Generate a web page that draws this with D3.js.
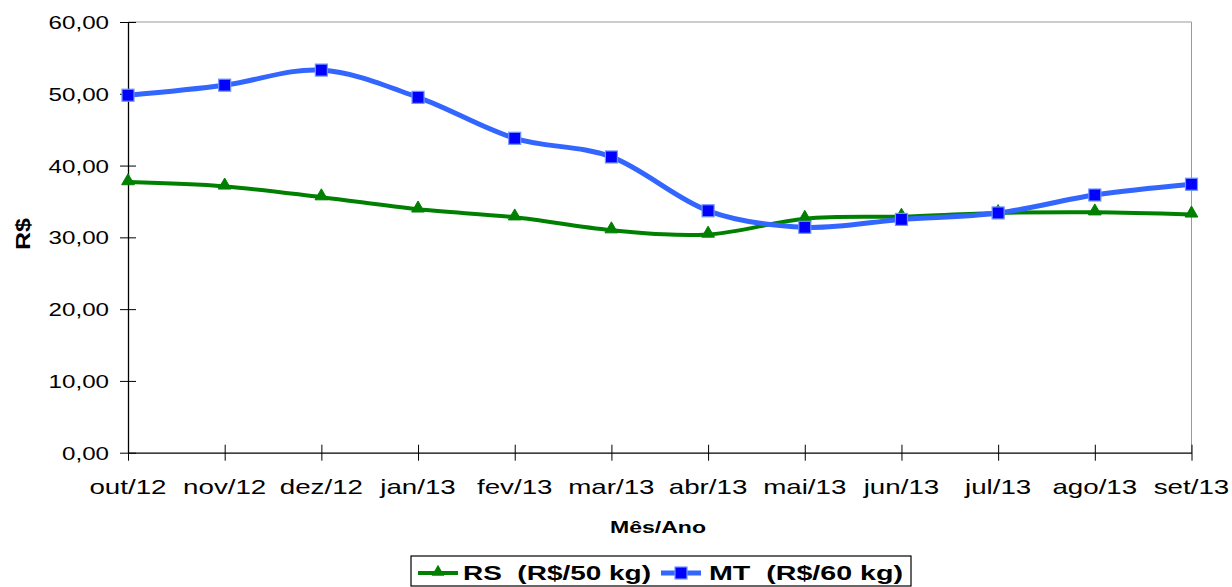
<html>
<head>
<meta charset="utf-8">
<title>Preços</title>
<script src="https://cdn.jsdelivr.net/npm/d3@7"></script>
<style>
  body { margin: 0; background: #fff; }
  text { font-family: "Liberation Sans", Arial, sans-serif; white-space: pre; }
</style>
</head>
<body>
<script>
// data
const months = ["out/12", "nov/12", "dez/12", "jan/13", "fev/13", "mar/13",
                "abr/13", "mai/13", "jun/13", "jul/13", "ago/13", "set/13"];
const rsValues = [37.7, 37.1, 35.6, 33.9, 32.8, 31.0, 30.4, 32.6, 32.9, 33.4, 33.5, 33.2];
const mtValues = [49.8, 51.2, 53.3, 49.5, 43.8, 41.2, 33.7, 31.4, 32.5, 33.4, 35.9, 37.4];
const yTicks = [0, 10, 20, 30, 40, 50, 60];
const seriesNames = ["RS  (R$/50 kg)", "MT  (R$/60 kg)"];

const w = 1232, h = 587;
const plotLeft = 128, plotRight = 1191.5, plotTop = 22, plotBottom = 452.7;

const svg = d3.select("body").append("svg")
  .attr("width", w)
  .attr("height", h);

const x = d3.scalePoint().domain(months).range([plotLeft, plotRight]).padding(0);
const y = d3.scaleLinear().domain([0, 60]).range([plotBottom, plotTop]);

const fmt = v => d3.format(".2f")(v).replace(".", ",");

// text looks horizontally stretched in the original, so widen it
function stretch(sel, factor) {
  sel.each(function () {
    const len = this.getComputedTextLength();
    d3.select(this).attr("textLength", len * factor).attr("lengthAdjust", "spacingAndGlyphs");
  });
}

// frame: gray top / right
svg.append("line").attr("x1", plotLeft).attr("x2", plotRight).attr("y1", plotTop).attr("y2", plotTop)
  .attr("stroke", "#999").attr("stroke-width", 1);
svg.append("line").attr("x1", plotRight).attr("x2", plotRight).attr("y1", plotTop).attr("y2", plotBottom)
  .attr("stroke", "#999").attr("stroke-width", 1);

// y axis
const yAxis = svg.append("g")
  .attr("transform", `translate(${plotLeft},0)`)
  .call(d3.axisLeft(y).tickValues(yTicks).tickSize(0).tickFormat(""));
yAxis.select(".domain").attr("stroke", "#000").attr("stroke-width", 1.3);
yAxis.selectAll(".tick line").attr("x1", -8).attr("x2", 8).attr("stroke", "#000");

const yLab = svg.append("g").selectAll("text")
  .data(yTicks)
  .join("text")
  .attr("x", 109)
  .attr("y", d => y(d) + 7)
  .attr("text-anchor", "end")
  .attr("font-size", 19)
  .attr("fill", "#000")
  .text(fmt);
stretch(yLab, 1.27);

// x axis
const xAxis = svg.append("g")
  .attr("transform", `translate(0,${plotBottom})`)
  .call(d3.axisBottom(x).tickSize(0).tickFormat(""));
xAxis.select(".domain").attr("stroke", "#000").attr("stroke-width", 1.3);
xAxis.selectAll(".tick line").attr("y1", -8).attr("y2", 8).attr("stroke", "#000");

const xLab = svg.append("g").selectAll("text")
  .data(months)
  .join("text")
  .attr("x", d => x(d))
  .attr("y", 494)
  .attr("text-anchor", "middle")
  .attr("font-size", 21)
  .attr("fill", "#000")
  .text(d => d);
stretch(xLab, 1.32);

// axis titles
svg.append("text")
  .attr("x", 658).attr("y", 533)
  .attr("text-anchor", "middle")
  .attr("font-size", 17).attr("font-weight", "bold")
  .attr("textLength", 96).attr("lengthAdjust", "spacingAndGlyphs")
  .text("Mês/Ano");

svg.append("text")
  .attr("transform", "translate(30,234) rotate(-90)")
  .attr("text-anchor", "middle")
  .attr("font-size", 21).attr("font-weight", "bold")
  .attr("textLength", 32).attr("lengthAdjust", "spacingAndGlyphs")
  .text("R$");

// lines
const line = d3.line()
  .x((d, i) => x(months[i]))
  .y(d => y(d))
  .curve(d3.curveCatmullRom.alpha(0));

const triangle = d3.symbol().type(d3.symbolTriangle).size(70);

svg.append("path")
  .datum(rsValues)
  .attr("d", line)
  .attr("fill", "none")
  .attr("stroke", "#008000")
  .attr("stroke-width", 4);

svg.append("g").selectAll("path")
  .data(rsValues)
  .join("path")
  .attr("d", triangle)
  .attr("transform", (d, i) => `translate(${x(months[i])},${y(d) - 1})`)
  .attr("fill", "#008000")
  .attr("stroke", "#008000")
  .attr("stroke-width", 1);

svg.append("path")
  .datum(mtValues)
  .attr("d", line)
  .attr("fill", "none")
  .attr("stroke", "#3366FF")
  .attr("stroke-width", 5);

svg.append("g").selectAll("rect")
  .data(mtValues)
  .join("rect")
  .attr("x", (d, i) => x(months[i]) - 6)
  .attr("y", d => y(d) - 6)
  .attr("width", 12)
  .attr("height", 12)
  .attr("fill", "#0000FF")
  .attr("stroke", "#6F95FF")
  .attr("stroke-width", 1.2);

// legend
const legend = svg.append("g");
legend.append("rect")
  .attr("x", 411).attr("y", 556)
  .attr("width", 500).attr("height", 30)
  .attr("fill", "#fff").attr("stroke", "#000").attr("stroke-width", 1.2);

// RS entry
legend.append("line").attr("x1", 418).attr("x2", 458).attr("y1", 573).attr("y2", 573)
  .attr("stroke", "#008000").attr("stroke-width", 4);
legend.append("path").attr("d", triangle).attr("transform", "translate(438,572)")
  .attr("fill", "#008000");
legend.append("text")
  .attr("x", 463).attr("y", 580)
  .attr("font-size", 20).attr("font-weight", "bold")
  .attr("textLength", 188).attr("lengthAdjust", "spacingAndGlyphs")
  .text(seriesNames[0]);

// MT entry
legend.append("line").attr("x1", 661).attr("x2", 701).attr("y1", 573).attr("y2", 573)
  .attr("stroke", "#3366FF").attr("stroke-width", 5);
legend.append("rect").attr("x", 675).attr("y", 567).attr("width", 12).attr("height", 12)
  .attr("fill", "#0000FF").attr("stroke", "#6F95FF").attr("stroke-width", 1.2);
legend.append("text")
  .attr("x", 709).attr("y", 580)
  .attr("font-size", 20).attr("font-weight", "bold")
  .attr("textLength", 194).attr("lengthAdjust", "spacingAndGlyphs")
  .text(seriesNames[1]);
</script>
</body>
</html>
